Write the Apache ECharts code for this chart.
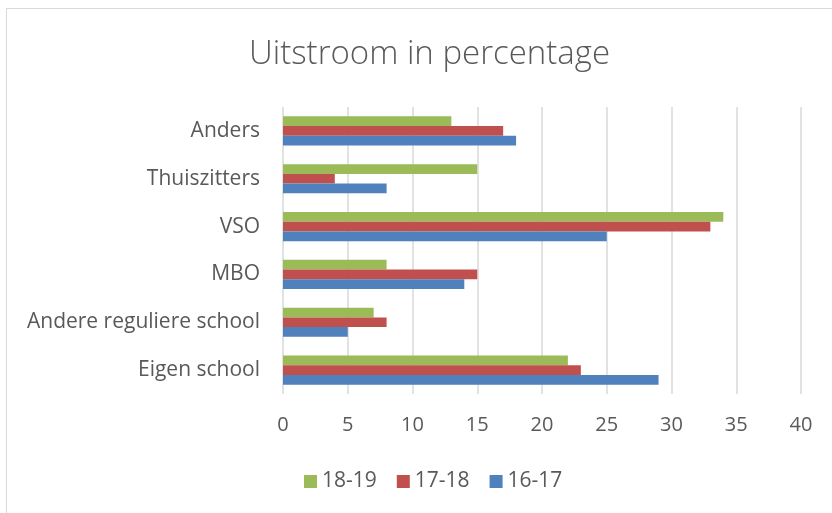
<!DOCTYPE html>
<html>
<head>
<meta charset="utf-8">
<script src="https://cdn.jsdelivr.net/npm/echarts@6/dist/echarts.min.js"></script>
<style>
  html, body { margin: 0; padding: 0; background: #fff; }
  #frame { position: absolute; left: 6px; top: 8px; width: 900px; height: 600px; border: 1px solid #d9d9d9; box-sizing: border-box; }
  #chart { position: absolute; left: 0; top: 0; width: 832px; height: 513px; }
</style>
</head>
<body>
<div id="frame"></div>
<div id="chart"></div>
<script>
const categories = ['Eigen school', 'Andere reguliere school', 'MBO', 'VSO', 'Thuiszitters', 'Anders'];
const s1617 = [29, 5, 14, 25, 8, 18];
const s1718 = [23, 8, 15, 33, 4, 17];
const s1819 = [22, 7, 8, 34, 15, 13];
const legendOrder = ['18-19', '17-18', '16-17'];

const textColor = '#595959';
const font = 'Open Sans, Noto Sans, sans-serif';

const chart = echarts.init(document.getElementById('chart'));

// in horizontal bars the first series sits on top of each group
const bar = (name, data, color) => ({
  name: name, type: 'bar', data: data,
  barGap: '0%', barCategoryGap: '39%',
  itemStyle: { color: color }
});

chart.setOption({
  animation: false,
  title: {
    text: 'Uitstroom in percentage',
    left: 244,
    top: 33,
    textStyle: { color: textColor, fontSize: 33, fontWeight: 300, fontFamily: font }
  },
  legend: {
    data: legendOrder,
    bottom: 16,
    left: 299,
    itemWidth: 13,
    itemHeight: 13,
    itemGap: 20,
    icon: 'rect',
    textStyle: { color: textColor, fontSize: 21, fontFamily: font }
  },
  grid: { left: 283, right: 31, top: 107, bottom: 119 },
  xAxis: {
    type: 'value',
    min: 0,
    max: 40,
    interval: 5,
    axisLine: { show: false },
    axisTick: { show: false },
    axisLabel: { color: textColor, fontSize: 20, fontFamily: font, margin: 21 },
    splitLine: { lineStyle: { color: '#d9d9d9', width: 1.5 } }
  },
  yAxis: {
    type: 'category',
    data: categories,
    axisLine: { show: false },
    axisTick: { show: false },
    axisLabel: { color: textColor, fontSize: 21, fontFamily: font, margin: 23 }
  },
  series: [
    bar('18-19', s1819, '#9bbb59'),
    bar('17-18', s1718, '#c0504d'),
    bar('16-17', s1617, '#4f81bd')
  ]
});
</script>
</body>
</html>
